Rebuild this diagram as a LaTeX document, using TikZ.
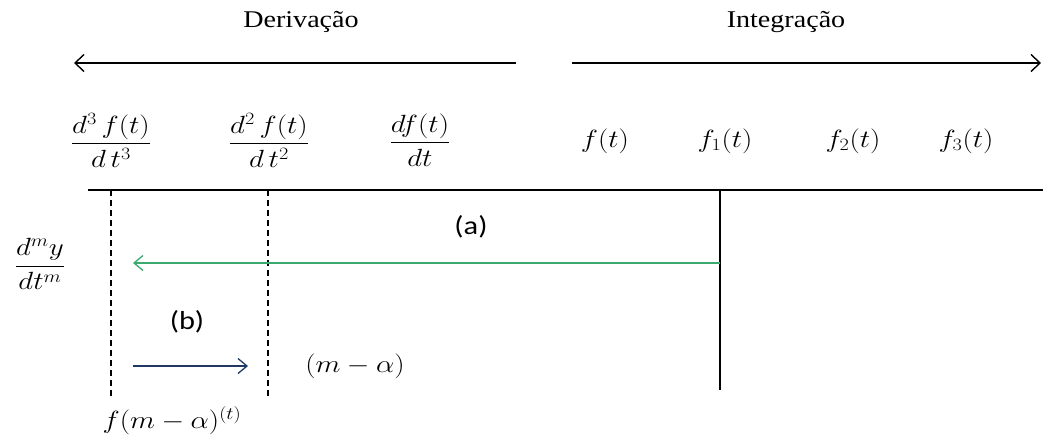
\documentclass[tikz,border=0pt]{standalone}
\usepackage{amsmath}
\usepackage{graphicx}
\usepackage{fontspec}
\setmainfont{Liberation Serif}
\newfontfamily\calib{Carlito}
\usetikzlibrary{arrows.meta}
\newcommand{\hs}[1]{\scalebox{1.17}[1]{#1}}
\definecolor{greenarr}{RGB}{60,170,110}
\definecolor{navyarr}{RGB}{31,56,100}
\tikzset{
  lbl/.style={inner sep=0pt, font=\fontsize{24}{28}\selectfont},
  par/.style={inner sep=0pt, font=\calib\fontsize{26}{30}\selectfont},
  mth/.style={inner sep=0pt, font=\fontsize{25}{30}\selectfont},
  axis/.style={line width=1.4pt, black},
  dirarrow/.style={line width=1.6pt, -{Straight Barb[length=9pt,width=17pt,line width=1.4pt]}},
  dashln/.style={line width=1.3pt, dash pattern=on 6pt off 4pt},
  flow/.style={line width=1.5pt, -{Straight Barb[length=9pt,width=15pt,line width=1.3pt]}}
}
\begin{document}
\begin{tikzpicture}[x=1pt,y=-1pt]
\useasboundingbox (0,0) rectangle (1043,439);
% headings
\node[lbl] (der) at (301,22) {\hs{Derivação}};
\node[lbl] (int) at (786,22) {\hs{Integração}};
\coordinate (dl0) at (516,63);
\coordinate (dl1) at (74,63);
\coordinate (il0) at (572,63);
\coordinate (il1) at (1041,63);
\draw[dirarrow] (dl0) -- (dl1);
\draw[dirarrow] (il0) -- (il1);
% top labels
\node[mth] (d3) at (111,140) {\hs{$\dfrac{d^3\,f(t)}{d\,t^3}$}};
\node[mth] (d2) at (269,140) {\hs{$\dfrac{d^2\,f(t)}{d\,t^2}$}};
\node[mth] (d1) at (420,140) {\hs{$\dfrac{df(t)}{dt}$}};
\node[mth] (f0) at (605,141) {\hs{$f(t)$}};
\node[mth] (f1) at (725,141) {\hs{$f_1(t)$}};
\node[mth] (f2) at (853,141) {\hs{$f_2(t)$}};
\node[mth] (f3) at (966,141) {\hs{$f_3(t)$}};
% axis
\coordinate (ax0) at (88,190);
\coordinate (ax1) at (1043,190);
\draw[axis] (ax0) -- (ax1);
% verticals
\coordinate (v1t) at (111,190);
\coordinate (v1b) at (111,398);
\coordinate (v2t) at (268,190);
\coordinate (v2b) at (268,398);
\coordinate (v3t) at (720,190);
\coordinate (v3b) at (720,390);
\draw[dashln] (v1t) -- (v1b);
\draw[dashln] (v2t) -- (v2b);
\draw[line width=1.5pt] (v3t) -- (v3b);
% arrows
\coordinate (ga0) at (720,263);
\coordinate (ga1) at (133,263);
\draw[flow, greenarr] (ga0) -- (ga1);
\coordinate (ba0) at (133,366);
\coordinate (ba1) at (248,366);
\draw[flow, navyarr] (ba0) -- (ba1);
% labels
\node[par] (la) at (471,227) {\hs{(a)}};
\node[par] (lb) at (187,322) {\hs{(b)}};
\node[mth] (dmy) at (40,264) {\hs{$\dfrac{d^my}{dt^m}$}};
\node[mth] (ma) at (355,366) {\hs{$(m-\alpha)$}};
\node[mth] (fma) at (172,421) {\hs{$f(m-\alpha)^{(t)}$}};
\end{tikzpicture}
\end{document}
